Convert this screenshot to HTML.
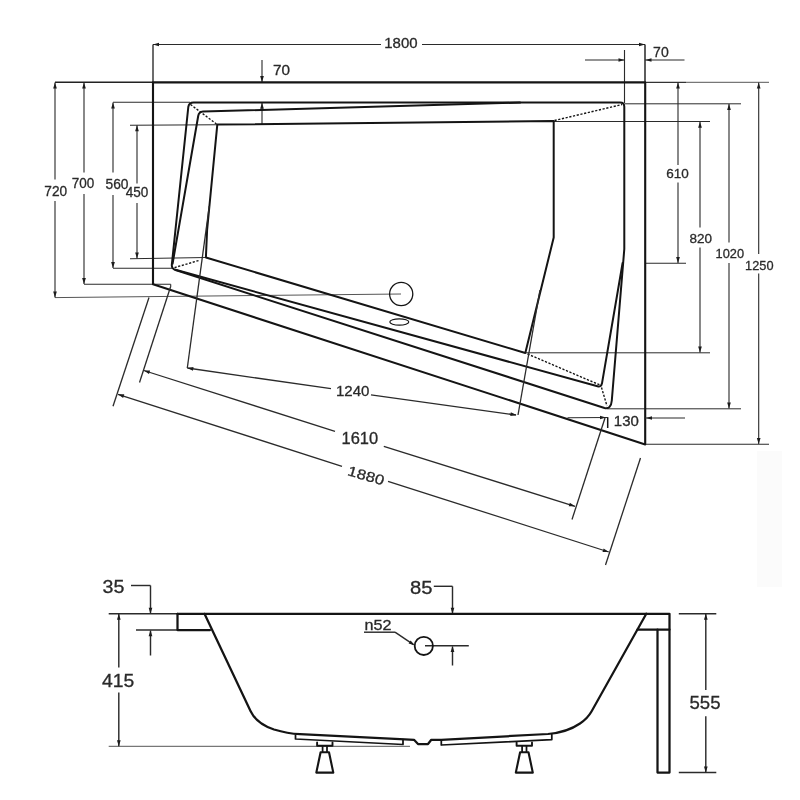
<!DOCTYPE html>
<html><head><meta charset="utf-8"><title>drawing</title>
<style>
html,body{margin:0;padding:0;background:#fff;}
body{width:800px;height:800px;overflow:hidden;}
svg{display:block;font-family:"Liberation Sans",sans-serif;filter:blur(0.3px);}
</style></head><body>
<svg width="800" height="800" viewBox="0 0 800 800">
<rect width="800" height="800" fill="#ffffff"/>
<rect x="757" y="451" width="25" height="136" fill="#fbfbfb"/>
<line x1="55" y1="82.3" x2="153" y2="82.3" stroke="#222" stroke-width="1.38" />
<line x1="645" y1="82.3" x2="686" y2="82.3" stroke="#333" stroke-width="1.25" />
<line x1="686" y1="82.3" x2="769" y2="82.3" stroke="#555" stroke-width="1.0" />
<line x1="113" y1="102.3" x2="190" y2="102.3" stroke="#2b2b2b" stroke-width="1.12" />
<line x1="130" y1="125.2" x2="217" y2="124.8" stroke="#2b2b2b" stroke-width="1.12" />
<line x1="130" y1="258.8" x2="206" y2="257.5" stroke="#2b2b2b" stroke-width="1.12" />
<line x1="113" y1="268.3" x2="172" y2="268.3" stroke="#2b2b2b" stroke-width="1.12" />
<line x1="84" y1="284.2" x2="170.7" y2="284.2" stroke="#2b2b2b" stroke-width="1.12" />
<line x1="170.7" y1="284.2" x2="170.7" y2="287.3" stroke="#2b2b2b" stroke-width="1.12" />
<line x1="55" y1="297.6" x2="401" y2="294" stroke="#555" stroke-width="1.0" />
<line x1="624.5" y1="103.8" x2="741" y2="103.8" stroke="#2b2b2b" stroke-width="1.0" />
<line x1="553.7" y1="121.5" x2="710" y2="121.5" stroke="#2b2b2b" stroke-width="1.0" />
<line x1="645" y1="263.3" x2="686" y2="263.3" stroke="#2b2b2b" stroke-width="1.12" />
<line x1="526" y1="352.8" x2="710" y2="352.8" stroke="#2b2b2b" stroke-width="1.0" />
<line x1="607" y1="408.8" x2="741" y2="408.8" stroke="#2b2b2b" stroke-width="1.0" />
<line x1="645" y1="444.3" x2="769" y2="444.3" stroke="#2b2b2b" stroke-width="1.12" />
<line x1="55" y1="82.5" x2="55" y2="179.5" stroke="#2b2b2b" stroke-width="1.12" />
<line x1="55" y1="201" x2="55" y2="297.4" stroke="#2b2b2b" stroke-width="1.12" />
<polygon points="55.00,82.50 56.85,88.50 53.15,88.50" fill="#1c1c1c"/>
<polygon points="55.00,297.40 53.15,291.40 56.85,291.40" fill="#1c1c1c"/>
<line x1="84" y1="82.5" x2="84" y2="172.5" stroke="#2b2b2b" stroke-width="1.12" />
<line x1="84" y1="194" x2="84" y2="284" stroke="#2b2b2b" stroke-width="1.12" />
<polygon points="84.00,82.50 85.85,88.50 82.15,88.50" fill="#1c1c1c"/>
<polygon points="84.00,284.00 82.15,278.00 85.85,278.00" fill="#1c1c1c"/>
<line x1="113" y1="102.5" x2="113" y2="172.5" stroke="#2b2b2b" stroke-width="1.12" />
<line x1="113" y1="195" x2="113" y2="268" stroke="#2b2b2b" stroke-width="1.12" />
<polygon points="113.00,102.50 114.85,108.50 111.15,108.50" fill="#1c1c1c"/>
<polygon points="113.00,268.00 111.15,262.00 114.85,262.00" fill="#1c1c1c"/>
<line x1="137" y1="125.3" x2="137" y2="183.5" stroke="#2b2b2b" stroke-width="1.12" />
<line x1="137" y1="203" x2="137" y2="258.5" stroke="#2b2b2b" stroke-width="1.12" />
<polygon points="137.00,125.30 138.85,131.30 135.15,131.30" fill="#1c1c1c"/>
<polygon points="137.00,258.50 135.15,252.50 138.85,252.50" fill="#1c1c1c"/>
<line x1="678" y1="82.5" x2="678" y2="165" stroke="#2b2b2b" stroke-width="1.12" />
<line x1="678" y1="182.5" x2="678" y2="263" stroke="#2b2b2b" stroke-width="1.12" />
<polygon points="678.00,82.50 679.85,88.50 676.15,88.50" fill="#1c1c1c"/>
<polygon points="678.00,263.00 676.15,257.00 679.85,257.00" fill="#1c1c1c"/>
<line x1="700" y1="121.7" x2="700" y2="227.5" stroke="#2b2b2b" stroke-width="1.12" />
<line x1="700" y1="247.5" x2="700" y2="352.6" stroke="#2b2b2b" stroke-width="1.12" />
<polygon points="700.00,121.70 701.85,127.70 698.15,127.70" fill="#1c1c1c"/>
<polygon points="700.00,352.60 698.15,346.60 701.85,346.60" fill="#1c1c1c"/>
<line x1="729" y1="104" x2="729" y2="242.5" stroke="#2b2b2b" stroke-width="1.12" />
<line x1="729" y1="263" x2="729" y2="408.6" stroke="#2b2b2b" stroke-width="1.12" />
<polygon points="729.00,104.00 730.85,110.00 727.15,110.00" fill="#1c1c1c"/>
<polygon points="729.00,408.60 727.15,402.60 730.85,402.60" fill="#1c1c1c"/>
<line x1="758.7" y1="82.5" x2="758.7" y2="254" stroke="#2b2b2b" stroke-width="1.12" />
<line x1="758.7" y1="273.5" x2="758.7" y2="444" stroke="#2b2b2b" stroke-width="1.12" />
<polygon points="758.70,82.50 760.55,88.50 756.85,88.50" fill="#1c1c1c"/>
<polygon points="758.70,444.00 756.85,438.00 760.55,438.00" fill="#1c1c1c"/>
<line x1="153" y1="44.5" x2="381" y2="44.5" stroke="#2b2b2b" stroke-width="1.12" />
<line x1="422" y1="44.5" x2="645" y2="44.5" stroke="#2b2b2b" stroke-width="1.12" />
<polygon points="153.00,44.50 159.00,42.65 159.00,46.35" fill="#1c1c1c"/>
<polygon points="645.00,44.50 639.00,46.35 639.00,42.65" fill="#1c1c1c"/>
<line x1="153" y1="44.5" x2="153" y2="82.5" stroke="#141414" stroke-width="1.25" />
<line x1="645" y1="44.5" x2="645" y2="82.5" stroke="#141414" stroke-width="1.38" />
<line x1="624.5" y1="50" x2="624.5" y2="103" stroke="#2b2b2b" stroke-width="1.12" />
<line x1="585" y1="60" x2="624.5" y2="60" stroke="#2b2b2b" stroke-width="1.12" />
<polygon points="624.50,60.00 618.50,61.85 618.50,58.15" fill="#1c1c1c"/>
<line x1="645" y1="60" x2="684.5" y2="60" stroke="#2b2b2b" stroke-width="1.12" />
<polygon points="645.50,60.00 651.50,58.15 651.50,61.85" fill="#1c1c1c"/>
<line x1="262" y1="60" x2="262" y2="82" stroke="#2b2b2b" stroke-width="1.12" />
<polygon points="262.00,82.00 260.15,76.00 263.85,76.00" fill="#1c1c1c"/>
<line x1="262" y1="102.5" x2="262" y2="124.5" stroke="#2b2b2b" stroke-width="1.12" />
<polygon points="262.00,102.80 263.85,108.80 260.15,108.80" fill="#1c1c1c"/>
<path d="M153,82.4 H645.2 V444.4 L153,284.3 Z" fill="none" stroke="#141414" stroke-width="2.12" stroke-linejoin="round" stroke-linecap="round" />
<path d="M193.5,102.4 H620 Q624.3,102.4 624.3,106.8 V249 L611.8,400.5 Q611,409.6 604.5,408 L175.5,270 Q171.2,268.6 171.9,264 L188.3,107 Q189,102.4 193.5,102.4 Z" fill="none" stroke="#141414" stroke-width="2.0" stroke-linejoin="round" stroke-linecap="round" />
<path d="M203,111.6 L520,102.6 M622.6,263 L602,383.3 Q601.2,387.2 597.5,386.2 L175.5,269.8 M172.6,263.5 L198.2,116 Q199,111.8 203,111.6" fill="none" stroke="#141414" stroke-width="2.0" stroke-linejoin="round" stroke-linecap="round" />
<path d="M217.3,124.6 L553.7,121 V237.5 L525.3,353 L205.9,257.5 L207.1,230 Z" fill="none" stroke="#141414" stroke-width="2.0" stroke-linejoin="round" stroke-linecap="round" />
<line x1="190.5" y1="104.5" x2="216.5" y2="124" stroke="#141414" stroke-width="1.38" stroke-dasharray="2.2 1.6"/>
<line x1="174.5" y1="267.6" x2="199.5" y2="260.3" stroke="#141414" stroke-width="1.38" stroke-dasharray="2.2 1.6"/>
<line x1="554.5" y1="120.5" x2="622" y2="104.5" stroke="#141414" stroke-width="1.38" stroke-dasharray="2.2 1.6"/>
<line x1="527.5" y1="354" x2="600" y2="385" stroke="#141414" stroke-width="1.38" stroke-dasharray="2.2 1.6"/>
<line x1="601.5" y1="387.5" x2="607" y2="406" stroke="#141414" stroke-width="1.38" stroke-dasharray="2.2 1.6"/>
<circle cx="401.2" cy="294" r="11.6" fill="none" stroke="#141414" stroke-width="1.3"/>
<ellipse cx="399.3" cy="322" rx="9.5" ry="3.2" fill="none" stroke="#141414" stroke-width="1.2"/>
<line x1="209.3" y1="206" x2="187.3" y2="368" stroke="#2b2b2b" stroke-width="1.31" />
<line x1="540" y1="290" x2="518" y2="415" stroke="#2b2b2b" stroke-width="1.31" />
<line x1="187.3" y1="368" x2="331" y2="388.7" stroke="#2b2b2b" stroke-width="1.31" />
<line x1="371" y1="394.8" x2="516" y2="415" stroke="#2b2b2b" stroke-width="1.31" />
<polygon points="187.30,368.00 193.50,367.04 192.97,370.70" fill="#1c1c1c"/>
<polygon points="516.50,415.00 510.29,415.94 510.84,412.28" fill="#1c1c1c"/>
<line x1="170.5" y1="287" x2="139.5" y2="382.5" stroke="#2b2b2b" stroke-width="1.31" />
<line x1="605" y1="418" x2="572" y2="519.5" stroke="#2b2b2b" stroke-width="1.31" />
<line x1="143.8" y1="370.5" x2="335" y2="431.3" stroke="#2b2b2b" stroke-width="1.31" />
<line x1="383.8" y1="446.3" x2="575" y2="506.3" stroke="#2b2b2b" stroke-width="1.31" />
<polygon points="143.80,370.50 150.08,370.54 148.97,374.07" fill="#1c1c1c"/>
<polygon points="575.00,506.30 568.72,506.26 569.83,502.73" fill="#1c1c1c"/>
<line x1="149" y1="297.5" x2="113" y2="406.3" stroke="#2b2b2b" stroke-width="1.31" />
<line x1="640.5" y1="458" x2="605.5" y2="565" stroke="#2b2b2b" stroke-width="1.31" />
<line x1="118" y1="394.3" x2="342" y2="466.3" stroke="#2b2b2b" stroke-width="1.31" />
<line x1="388" y1="481.3" x2="608.8" y2="552" stroke="#2b2b2b" stroke-width="1.31" />
<polygon points="118.00,394.30 124.28,394.37 123.15,397.89" fill="#1c1c1c"/>
<polygon points="608.80,552.00 602.52,551.93 603.65,548.41" fill="#1c1c1c"/>
<line x1="567.5" y1="417.7" x2="607.7" y2="417.5" stroke="#2b2b2b" stroke-width="1.12" />
<polygon points="606.00,417.50 600.00,419.35 600.00,415.65" fill="#1c1c1c"/>
<line x1="607.7" y1="417.2" x2="607.7" y2="428" stroke="#141414" stroke-width="1.5" />
<line x1="645" y1="418" x2="685" y2="418" stroke="#2b2b2b" stroke-width="1.12" />
<polygon points="646.00,418.00 652.00,416.15 652.00,419.85" fill="#1c1c1c"/>
<text x="384.3" y="48.1" font-size="14.3" fill="#2a2a2a" stroke="#2a2a2a" stroke-width="0.3" textLength="33.3" lengthAdjust="spacingAndGlyphs" >1800</text>
<text x="273.0" y="75" font-size="14" fill="#2a2a2a" stroke="#2a2a2a" stroke-width="0.3" textLength="17.0" lengthAdjust="spacingAndGlyphs" >70</text>
<text x="653.1" y="57" font-size="14.5" fill="#2a2a2a" stroke="#2a2a2a" stroke-width="0.3" textLength="15.6" lengthAdjust="spacingAndGlyphs" >70</text>
<text x="44.3" y="196.1" font-size="14.5" fill="#2a2a2a" stroke="#2a2a2a" stroke-width="0.3" textLength="22.8" lengthAdjust="spacingAndGlyphs" >720</text>
<text x="71.7" y="188" font-size="14.5" fill="#2a2a2a" stroke="#2a2a2a" stroke-width="0.3" textLength="22.5" lengthAdjust="spacingAndGlyphs" >700</text>
<text x="105.5" y="189" font-size="14.5" fill="#2a2a2a" stroke="#2a2a2a" stroke-width="0.3" textLength="23.0" lengthAdjust="spacingAndGlyphs" >560</text>
<text x="125.8" y="197.3" font-size="14.5" fill="#2a2a2a" stroke="#2a2a2a" stroke-width="0.3" textLength="22.6" lengthAdjust="spacingAndGlyphs" >450</text>
<text x="666.3" y="177.5" font-size="13.5" fill="#2a2a2a" stroke="#2a2a2a" stroke-width="0.3" textLength="22.5" lengthAdjust="spacingAndGlyphs" >610</text>
<text x="689.5" y="243.3" font-size="13.5" fill="#2a2a2a" stroke="#2a2a2a" stroke-width="0.3" textLength="22.5" lengthAdjust="spacingAndGlyphs" >820</text>
<text x="715.6" y="257.5" font-size="13.5" fill="#2a2a2a" stroke="#2a2a2a" stroke-width="0.3" textLength="28.5" lengthAdjust="spacingAndGlyphs" >1020</text>
<text x="745.1" y="269.5" font-size="13.5" fill="#2a2a2a" stroke="#2a2a2a" stroke-width="0.3" textLength="28.4" lengthAdjust="spacingAndGlyphs" >1250</text>
<text x="613.8" y="426" font-size="14" fill="#2a2a2a" stroke="#2a2a2a" stroke-width="0.3" textLength="25.0" lengthAdjust="spacingAndGlyphs" >130</text>
<text x="335.9" y="396.3" font-size="15" fill="#2a2a2a" stroke="#2a2a2a" stroke-width="0.3" textLength="33.5" lengthAdjust="spacingAndGlyphs" >1240</text>
<text x="341.5" y="444.2" font-size="15.6" fill="#2a2a2a" stroke="#2a2a2a" stroke-width="0.3" textLength="36.6" lengthAdjust="spacingAndGlyphs" >1610</text>
<g transform="translate(347.2,475.2) rotate(16)">
<text x="-0.5" y="0" font-size="14" fill="#2a2a2a" stroke="#2a2a2a" stroke-width="0.3" textLength="37.5" lengthAdjust="spacingAndGlyphs" >1880</text>
</g>
<line x1="108.7" y1="613.8" x2="177.5" y2="613.8" stroke="#2b2b2b" stroke-width="1.44" />
<line x1="136" y1="630" x2="177.5" y2="630" stroke="#2b2b2b" stroke-width="1.44" />
<line x1="108.7" y1="746.3" x2="410" y2="746.3" stroke="#555" stroke-width="1.0" />
<line x1="118.8" y1="613.8" x2="118.8" y2="667.5" stroke="#2b2b2b" stroke-width="1.44" />
<line x1="118.8" y1="692.5" x2="118.8" y2="746.2" stroke="#2b2b2b" stroke-width="1.44" />
<polygon points="118.80,613.80 120.65,619.80 116.95,619.80" fill="#1c1c1c"/>
<polygon points="118.80,746.20 116.95,740.20 120.65,740.20" fill="#1c1c1c"/>
<line x1="131" y1="585.5" x2="150.5" y2="585.5" stroke="#2b2b2b" stroke-width="1.44" />
<line x1="150.5" y1="585.5" x2="150.5" y2="613" stroke="#2b2b2b" stroke-width="1.44" />
<polygon points="150.50,613.80 148.65,607.80 152.35,607.80" fill="#1c1c1c"/>
<line x1="150.5" y1="655.5" x2="150.5" y2="630.5" stroke="#2b2b2b" stroke-width="1.44" />
<polygon points="150.50,630.20 152.35,636.20 148.65,636.20" fill="#1c1c1c"/>
<line x1="433.8" y1="586.3" x2="452.5" y2="586.3" stroke="#2b2b2b" stroke-width="1.44" />
<line x1="452.5" y1="586.3" x2="452.5" y2="613" stroke="#2b2b2b" stroke-width="1.44" />
<polygon points="452.50,613.80 450.65,607.80 454.35,607.80" fill="#1c1c1c"/>
<line x1="425" y1="645.8" x2="468.8" y2="645.8" stroke="#2b2b2b" stroke-width="1.44" />
<line x1="452.5" y1="665.5" x2="452.5" y2="646.5" stroke="#2b2b2b" stroke-width="1.44" />
<polygon points="452.50,646.00 454.35,652.00 450.65,652.00" fill="#1c1c1c"/>
<line x1="364" y1="632.2" x2="395" y2="632.2" stroke="#2b2b2b" stroke-width="1.44" />
<line x1="395" y1="632.2" x2="413.5" y2="644.6" stroke="#2b2b2b" stroke-width="1.44" />
<polygon points="414.60,645.30 408.59,643.50 410.65,640.42" fill="#1c1c1c"/>
<circle cx="423.8" cy="645.9" r="9.1" fill="none" stroke="#141414" stroke-width="1.8"/>
<line x1="678.8" y1="613.8" x2="716.3" y2="613.8" stroke="#2b2b2b" stroke-width="1.44" />
<line x1="678.8" y1="772.5" x2="716.3" y2="772.5" stroke="#2b2b2b" stroke-width="1.44" />
<line x1="705.8" y1="613.8" x2="705.8" y2="690" stroke="#2b2b2b" stroke-width="1.44" />
<line x1="705.8" y1="716.3" x2="705.8" y2="772.4" stroke="#2b2b2b" stroke-width="1.44" />
<polygon points="705.80,613.80 707.65,619.80 703.95,619.80" fill="#1c1c1c"/>
<polygon points="705.80,772.40 703.95,766.40 707.65,766.40" fill="#1c1c1c"/>
<path d="M177.5,613.8 H669.5 V772.5 H657.5 V629.6" fill="none" stroke="#141414" stroke-width="2.25" stroke-linejoin="round" stroke-linecap="round" />
<path d="M177.5,613.8 V630 H210" fill="none" stroke="#141414" stroke-width="2.25" stroke-linejoin="round" stroke-linecap="round" />
<path d="M637.5,629.6 H669.5" fill="none" stroke="#141414" stroke-width="2.25" stroke-linejoin="round" stroke-linecap="round" />
<path d="M204.5,613.8 L250.5,711 C254.5,719.5 262,725.5 274,729.5 C284,732.5 292,733.8 300,734.2 L405,739.3 L414,739.8 L418,744 H428 L431.3,739.8 H441.3 L548,734 C562,732.8 572,729 580,723.5 C586,719.5 589.5,715 591.5,711.5 L646.3,613.8" fill="none" stroke="#141414" stroke-width="2.25" stroke-linejoin="round" stroke-linecap="round" />
<path d="M295.5,735 V739 L403,744.5 V739.5" fill="none" stroke="#141414" stroke-width="1.75" stroke-linejoin="round" stroke-linecap="round" />
<path d="M441.3,740 V745 L551.8,739.6 V734.6" fill="none" stroke="#141414" stroke-width="1.75" stroke-linejoin="round" stroke-linecap="round" />
<path d="M317.1,742.4 V745.8 H332.5 V742.4" fill="none" stroke="#141414" stroke-width="1.88" stroke-linejoin="round" stroke-linecap="round" />
<path d="M322.6,746 V752 M327.0,746 V752" fill="none" stroke="#141414" stroke-width="1.75" stroke-linejoin="round" stroke-linecap="round" />
<path d="M320.6,752.3 H329.0 L333.3,772.6 H316.3 Z" fill="none" stroke="#141414" stroke-width="2.12" stroke-linejoin="round" stroke-linecap="round" />
<path d="M516.5999999999999,742.4 V745.8 H532.0 V742.4" fill="none" stroke="#141414" stroke-width="1.88" stroke-linejoin="round" stroke-linecap="round" />
<path d="M522.0999999999999,746 V752 M526.5,746 V752" fill="none" stroke="#141414" stroke-width="1.75" stroke-linejoin="round" stroke-linecap="round" />
<path d="M520.0999999999999,752.3 H528.5 L532.8,772.6 H515.8 Z" fill="none" stroke="#141414" stroke-width="2.12" stroke-linejoin="round" stroke-linecap="round" />
<text x="102.5" y="592.5" font-size="17.5" fill="#2a2a2a" stroke="#2a2a2a" stroke-width="0.3" textLength="21.8" lengthAdjust="spacingAndGlyphs" >35</text>
<text x="410.0" y="593.8" font-size="17.5" fill="#2a2a2a" stroke="#2a2a2a" stroke-width="0.3" textLength="22.5" lengthAdjust="spacingAndGlyphs" >85</text>
<text x="102.0" y="687" font-size="17.5" fill="#2a2a2a" stroke="#2a2a2a" stroke-width="0.3" textLength="32.2" lengthAdjust="spacingAndGlyphs" >415</text>
<text x="689.5" y="708.8" font-size="17.5" fill="#2a2a2a" stroke="#2a2a2a" stroke-width="0.3" textLength="31.0" lengthAdjust="spacingAndGlyphs" >555</text>
<text x="364.5" y="630" font-size="14.5" fill="#2a2a2a" stroke="#2a2a2a" stroke-width="0.3" textLength="27.0" lengthAdjust="spacingAndGlyphs" >n52</text>
</svg>
</body></html>
